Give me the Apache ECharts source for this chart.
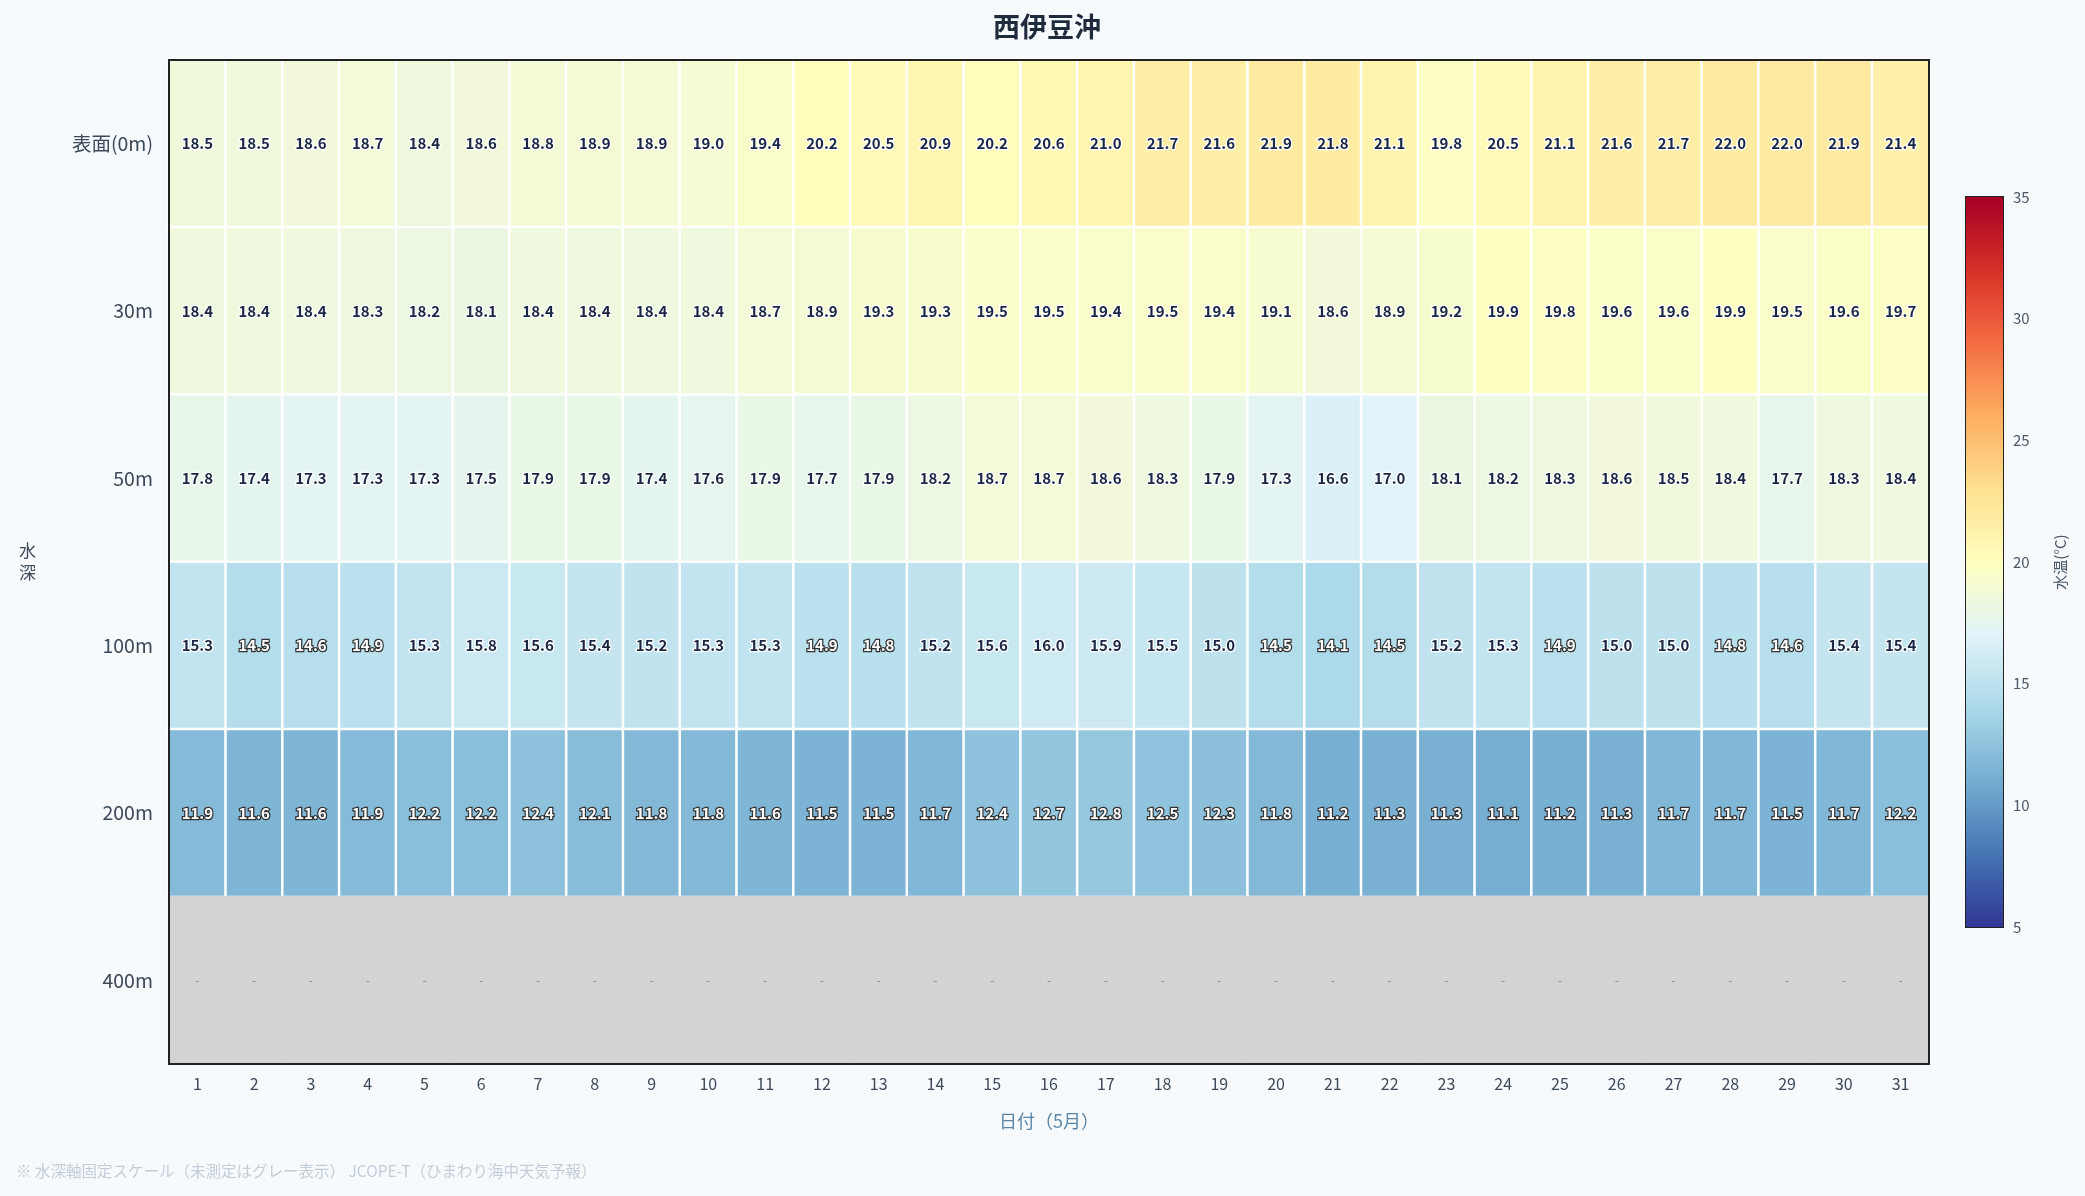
<!DOCTYPE html>
<html>
<head>
<meta charset="utf-8">
<script src="https://cdn.jsdelivr.net/npm/echarts@6/dist/echarts.min.js"></script>
<style>
	html, body { margin: 0; padding: 0; background: #f7fafd; }
	#chart { width: 2085px; height: 1196px; }
</style>
</head>
<body>
<div id="chart"></div>
<script>
// 日付（5月）
var days = ['1','2','3','4','5','6','7','8','9','10','11','12','13','14','15','16','17','18','19','20','21','22','23','24','25','26','27','28','29','30','31'];
var depths = ['表面(0m)', '30m', '50m', '100m', '200m', '400m'];

// 水温 各水深
var temp0 = [18.5,18.5,18.6,18.7,18.4,18.6,18.8,18.9,18.9,19.0,19.4,20.2,20.5,20.9,20.2,20.6,21.0,21.7,21.6,21.9,21.8,21.1,19.8,20.5,21.1,21.6,21.7,22.0,22.0,21.9,21.4];
var temp30 = [18.4,18.4,18.4,18.3,18.2,18.1,18.4,18.4,18.4,18.4,18.7,18.9,19.3,19.3,19.5,19.5,19.4,19.5,19.4,19.1,18.6,18.9,19.2,19.9,19.8,19.6,19.6,19.9,19.5,19.6,19.7];
var temp50 = [17.8,17.4,17.3,17.3,17.3,17.5,17.9,17.9,17.4,17.6,17.9,17.7,17.9,18.2,18.7,18.7,18.6,18.3,17.9,17.3,16.6,17.0,18.1,18.2,18.3,18.6,18.5,18.4,17.7,18.3,18.4];
var temp100 = [15.3,14.5,14.6,14.9,15.3,15.8,15.6,15.4,15.2,15.3,15.3,14.9,14.8,15.2,15.6,16.0,15.9,15.5,15.0,14.5,14.1,14.5,15.2,15.3,14.9,15.0,15.0,14.8,14.6,15.4,15.4];
var temp200 = [11.9,11.6,11.6,11.9,12.2,12.2,12.4,12.1,11.8,11.8,11.6,11.5,11.5,11.7,12.4,12.7,12.8,12.5,12.3,11.8,11.2,11.3,11.3,11.1,11.2,11.3,11.7,11.7,11.5,11.7,12.2];
// 400m は未測定
var temp400 = [null,null,null,null,null,null,null,null,null,null,null,null,null,null,null,null,null,null,null,null,null,null,null,null,null,null,null,null,null,null,null];

var colorTicks = [5, 10, 15, 20, 25, 30, 35];
// RdYlBu_r
var cmap = ['#313695','#4575b4','#74add1','#abd9e9','#e0f3f8','#ffffbf','#fee090','#fdae61','#f46d43','#d73027','#a50026'];

var FONT = '"Noto Sans CJK JP", "Noto Sans", sans-serif';
var rows = [temp0, temp30, temp50, temp100, temp200];

var heatData = [];
var missData = [];
for (var r = 0; r < rows.length; r++) {
	for (var i = 0; i < days.length; i++) {
		var v = rows[r][i];
		var light = v < 15;
		heatData.push({
			value: [i, r, v],
			label: {
				color: light ? '#ffffff' : '#1a2744',
				textBorderColor: light ? '#333333' : '#ffffff'
			}
		});
	}
}
for (var i = 0; i < days.length; i++) {
	missData.push([i, 5, temp400[i] == null ? 0 : temp400[i]]);
}

var stops = [];
for (var c = 0; c < cmap.length; c++) {
	stops.push({ offset: c / (cmap.length - 1), color: cmap[c] });
}

// 枠線用（ラベルなし）
var frameLine = { show: true, lineStyle: { color: '#222', width: 2 } };

var chart = echarts.init(document.getElementById('chart'));
chart.setOption({
	backgroundColor: '#f7fafd',
	animation: false,
	textStyle: { fontFamily: FONT },
	title: {
		text: '西伊豆沖',
		left: 1042, top: 8, textAlign: 'center',
		textStyle: { fontSize: 27, fontWeight: 'bold', color: '#1e2b3c', fontFamily: FONT }
	},
	graphic: [{
		type: 'text', left: 16, top: 1163,
		style: {
			text: '※ 水深軸固定スケール（未測定はグレー表示） JCOPE-T（ひまわり海中天気予報）',
			fill: '#c3cdd8', font: '15.5px ' + FONT
		}
	}],
	grid: [
		{ left: 169, right: 156, top: 60, bottom: 132 },
		{ left: 1966, width: 37, top: 197, height: 730, show: true, borderColor: '#222', borderWidth: 2 }
	],
	xAxis: [{
		type: 'category', data: days, gridIndex: 0,
		name: '日付（5月）', nameLocation: 'middle', nameGap: 48,
		nameTextStyle: { color: '#5b86a8', fontSize: 18, fontFamily: FONT },
		axisLine: frameLine,
		axisTick: { alignWithLabel: true, length: 6, lineStyle: { color: '#222', width: 2 } },
		axisLabel: { color: '#3d4a5a', fontSize: 16, margin: 12 },
		splitLine: { show: false }, z: 10
	}, {
		type: 'value', gridIndex: 1, min: 0, max: 1, show: false
	}, {
		type: 'category', data: days, gridIndex: 0, position: 'top',
		axisLine: frameLine, axisTick: { show: false }, axisLabel: { show: false },
		splitLine: { show: false }, z: 10
	}],
	yAxis: [{
		type: 'category', data: depths, gridIndex: 0, inverse: true,
		name: '水\n深', nameLocation: 'middle', nameGap: 133, nameRotate: 0,
		nameTextStyle: { color: '#3d4a5a', fontSize: 17, lineHeight: 22, fontFamily: FONT },
		axisLine: frameLine,
		axisTick: { alignWithLabel: true, length: 6, lineStyle: { color: '#222', width: 2 } },
		axisLabel: { color: '#3d4a5a', fontSize: 19.5, margin: 16 },
		splitLine: { show: false }, z: 10
	}, {
		type: 'value', gridIndex: 1, min: 5, max: 35, interval: 5, position: 'right',
		name: '水温(°C)', nameLocation: 'middle', nameGap: 50, nameRotate: 90,
		nameTextStyle: { color: '#4a5868', fontSize: 15, fontFamily: FONT },
		axisLine: { show: true, lineStyle: { color: '#222', width: 2 } },
		axisTick: { show: true, length: 6, lineStyle: { color: '#222', width: 2 } },
		axisLabel: { color: '#4a5868', fontSize: 15, margin: 10 },
		splitLine: { show: false }
	}, {
		type: 'category', data: depths, gridIndex: 0, inverse: true, position: 'right',
		axisLine: frameLine, axisTick: { show: false }, axisLabel: { show: false },
		splitLine: { show: false }, z: 10
	}],
	visualMap: {
		show: false, type: 'continuous', seriesIndex: 0, dimension: 2,
		min: 5, max: 35, inRange: { color: cmap }
	},
	series: [{
		type: 'heatmap', xAxisIndex: 0, yAxisIndex: 0,
		data: heatData,
		itemStyle: { borderColor: '#ffffff', borderWidth: 2.5 },
		label: {
			show: true, fontSize: 15, fontWeight: 'bold', textBorderWidth: 2.5,
			fontFamily: FONT,
			formatter: function (p) { return p.value[2].toFixed(1); }
		},
		emphasis: { disabled: true }
	}, {
		type: 'heatmap', xAxisIndex: 0, yAxisIndex: 0,
		data: missData,
		itemStyle: { color: '#d3d3d3', borderColor: '#d3d3d3', borderWidth: 1 },
		label: { show: true, formatter: '-', color: '#8a8a8a', fontSize: 12 },
		emphasis: { disabled: true }
	}, {
		type: 'custom', xAxisIndex: 1, yAxisIndex: 1,
		data: [[0, colorTicks[0], colorTicks[colorTicks.length - 1]]],
		renderItem: function (params, api) {
			var a = api.coord([0, api.value(2)]);
			var b = api.coord([1, api.value(1)]);
			return {
				type: 'rect',
				shape: { x: a[0], y: a[1], width: b[0] - a[0], height: b[1] - a[1] },
				style: { fill: new echarts.graphic.LinearGradient(0, 1, 0, 0, stops) }
			};
		},
		silent: true, z: 1
	}]
});
</script>
</body>
</html>
